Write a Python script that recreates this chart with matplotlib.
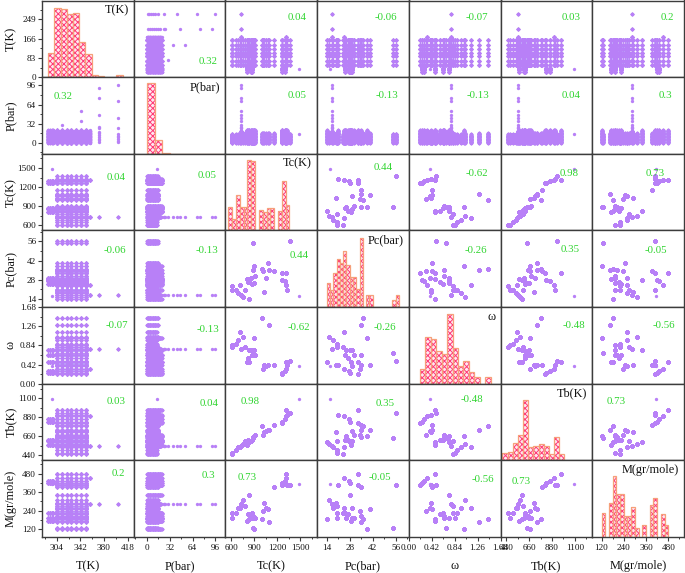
import numpy as np
import matplotlib
matplotlib.use("Agg")
import matplotlib.pyplot as plt
from matplotlib.ticker import FixedLocator, MultipleLocator, FormatStrFormatter

plt.rcParams['font.family'] = ['Liberation Serif', 'DejaVu Serif']
plt.rcParams['hatch.linewidth'] = 0.7

# ---------------- data ----------------
var_labels = ["T(K)", "P(bar)", "Tc(K)", "Pc(bar)", "ω", "Tb(K)", "M(gr/mole)"]

# compound properties (one entry per compound)
comp_Tc = [605, 613, 657, 692, 709, 725, 752, 779, 809, 822, 831, 831, 852, 874,
           883, 883, 891, 896, 904, 996, 1009, 1026, 1057, 1083, 1092, 1157,
           1257, 1265, 1296, 1309, 1318, 1331, 1370, 1490]
comp_Pc = [23.7, 20.3, 20.3, 18.1, 24.4, 17.1, 15.4, 20.3, 28.7, 26.8, 28.0, 14.2,
           29.2, 24.9, 54.6, 35.0, 25.6, 38.4, 30.9, 36.0, 34.5, 19.5, 29.2, 40.3,
           35.0, 34.8, 28.0, 33.1, 27.5, 24.4, 33.1, 20.8, 56.3, 15.9]
comp_omega = [0.81, 0.85, 0.88, 0.96, 1.14, 0.77, 1.03, 0.81, 0.48, 0.57, 0.74, 0.48,
              0.74, 0.63, 0.68, 0.64, 0.74, 1.01, 0.64, 1.45, 0.32, 0.40, 0.38, 0.42,
              1.28, 0.42, 0.24, 0.21, 0.27, 0.33, 0.48, 0.40, 0.49, 0.39]
comp_Tb = [456, 470, 499, 533, 540, 550, 571, 602, 564, 621, 594, 590, 610, 621,
           640, 650, 660, 670, 679, 775, 671, 709, 717, 736, 736, 786, 824, 813,
           859, 897, 962, 909, 930, 1093]
comp_M = [222, 195, 222, 255, 255, 284, 312, 270, 173, 216, 340, 184, 195, 227,
          130, 205, 195, 120, 195, 184, 237, 291, 259, 248, 167, 391, 419, 409,
          430, 451, 477, 409, 409, 413]
# measured temperature sets and pressure ranges for each compound
comp_Tset = ["A", "A", "A", "A", "A", "C", "A", "A", "AL", "A", "A", "A", "AL", "AL",
             "A", "A", "A", "A", "A", "A", "A", "A", "A", "A", "A", "A", "AL", "A",
             "AL", "C", "A", "A", "A", "S"]
comp_Pmax = [14, 14, 14, 14, 14, 20, 16, 16, 21, 21, 21, 21, 21, 21, 15, 21, 21, 21,
             21, 16, 16, 16, 16, 16, 16, 16, 21, 21, 21, 21, 21, 21, 15, 14]
comp_Pmin = [0, 0, 0, 0, 0, 0, 0, 0, 0, 0, 0, 0, 0, 0, 0, 0, 0, 0, 0, 0, 0, 0, 0,
             0, 0, 0, 0, 0, 0, 0, 0, 0, 0, 14]
T_sets = {
    "A": [304, 312, 320, 327, 335, 343, 351],
    "C": [304, 312, 320, 327, 335, 343, 351, 358],
    "L": [290, 293, 296, 298],
    "S": [296],
}
P_grid = [0.2, 1, 2, 3, 4, 5, 6, 7, 8, 9, 10, 11, 12, 13, 14, 15, 16, 17, 18,
          19, 20, 21, 22]
# high-pressure / high-temperature measurements of compound #6
extra_comp = 5
extra_T = [372, 372, 372, 372, 372, 372, 372, 372, 372, 372, 372, 372,
           402, 402, 402, 402, 402, 402, 402, 402, 402, 402, 343, 343, 313]
extra_P = [1, 4, 7, 10, 13, 16, 18, 24, 26, 46, 75, 91,
           1, 3.5, 6, 9, 12, 15, 24, 42, 70, 96, 37, 54, 29]

# histogram counts (diagonal)
hist_T_start, hist_T_width = 290, 10
hist_T_counts = [106, 297, 292, 272, 277, 150, 100, 8, 6, 0, 0, 8]
hist_P_start, hist_P_width = 0, 32 / 3
hist_P_counts = [1250, 240, 6, 4, 4, 3, 3, 4, 3, 4]
hist_Tc_start, hist_Tc_width = 560, 50
hist_Tc_counts = [84, 41, 126, 82, 82, 247, 245, 0, 72, 64, 78, 78, 0, 70, 175, 88]
hist_Pc_start, hist_Pc_width = 14, 2
hist_Pc_counts = [84, 60, 119, 168, 154, 196, 147, 105, 105, 63, 245, 0, 42, 42,
                  0, 0, 0, 0, 0, 0, 25, 42]
hist_w_start, hist_w_width = 0.2, 0.1
hist_w_counts = [51, 165, 156, 116, 104, 244, 127, 63, 80, 40, 22, 0, 22]
hist_Tb_start, hist_Tb_width = 400, 50
hist_Tb_counts = [27, 29, 61, 88, 212, 47, 50, 56, 50, 21, 84, 23]
hist_M_start, hist_M_width = 120, 20
hist_M_counts = [85, 0, 121, 214, 153, 153, 74, 74, 106, 30, 0, 42, 0, 112, 139,
                 0, 80, 42]

# Pearson correlation matrix
corr = [
    [1, 0.32, 0.04, -0.06, -0.07, 0.03, 0.2],
    [0.32, 1, 0.05, -0.13, -0.13, 0.04, 0.3],
    [0.04, 0.05, 1, 0.44, -0.62, 0.98, 0.73],
    [-0.06, -0.13, 0.44, 1, -0.26, 0.35, -0.05],
    [-0.07, -0.13, -0.62, -0.26, 1, -0.48, -0.56],
    [0.03, 0.04, 0.98, 0.35, -0.48, 1, 0.73],
    [0.2, 0.3, 0.73, -0.05, -0.56, 0.73, 1],
]

axis_ticks = [[304, 342, 380, 418], [0, 32, 64, 96], [600, 900, 1200, 1500],
              [14, 28, 42, 56], [0.00, 0.42, 0.84, 1.26, 1.68],
              [440, 660, 880, 1100], [120, 240, 360, 480]]
row0_count_ticks = [0, 83, 166, 249]

# ---------------- build table ----------------
rows = []
for i in range(len(comp_Tc)):
    temps = []
    for key in comp_Tset[i]:
        temps += T_sets[key]
    for t in temps:
        for p in P_grid:
            if comp_Pmin[i] <= p <= comp_Pmax[i]:
                rows.append((t, p, comp_Tc[i], comp_Pc[i], comp_omega[i], comp_Tb[i], comp_M[i]))
for t, p in zip(extra_T, extra_P):
    k = extra_comp
    rows.append((t, p, comp_Tc[k], comp_Pc[k], comp_omega[k], comp_Tb[k], comp_M[k]))
data = np.array(rows, dtype=float)

hists = [
    (hist_T_start, hist_T_width, hist_T_counts, 330),
    (hist_P_start, hist_P_width, hist_P_counts, 1350),
    (hist_Tc_start, hist_Tc_width, hist_Tc_counts, 270),
    (hist_Pc_start, hist_Pc_width, hist_Pc_counts, 270),
    (hist_w_start, hist_w_width, hist_w_counts, 270),
    (hist_Tb_start, hist_Tb_width, hist_Tb_counts, 270),
    (hist_M_start, hist_M_width, hist_M_counts, 270),
]

# ---------------- styling ----------------
lims = [(280, 428), (-18.5, 110), (522, 1722), (8.2, 64), (0, 1.68), (383, 1269), (70, 565)]
fmts = ['%d', '%d', '%d', '%d', '%.2f', '%d', '%d']
corr_pos = {
    (0, 1): (208, 62), (0, 2): (297, 18), (0, 3): (386, 18), (0, 4): (477, 18),
    (0, 5): (571, 18), (0, 6): (667, 18),
    (1, 0): (63, 97), (1, 2): (297, 96), (1, 3): (387, 96), (1, 4): (478, 96),
    (1, 5): (571, 96), (1, 6): (665, 96),
    (2, 0): (116, 178), (2, 1): (207, 176), (2, 3): (383, 168), (2, 4): (477, 173),
    (2, 5): (569, 173), (2, 6): (655, 173),
    (3, 0): (115, 250), (3, 1): (207, 250), (3, 2): (299, 256), (3, 4): (476, 250),
    (3, 5): (570, 249), (3, 6): (656, 250),
    (4, 0): (117, 326), (4, 1): (208, 330), (4, 2): (299, 327), (4, 3): (385, 327),
    (4, 5): (574, 326), (4, 6): (664, 326),
    (5, 0): (116, 402), (5, 1): (209, 403), (5, 2): (250, 402), (5, 3): (385, 404),
    (5, 4): (472, 400), (5, 6): (616, 401),
    (6, 0): (118, 473), (6, 1): (208, 476), (6, 2): (247, 477), (6, 3): (380, 478),
    (6, 4): (483, 479), (6, 5): (521, 481),
}

W, H = 685, 573
fig = plt.figure(figsize=(W / 100, H / 100), dpi=100)
L, R, TOP, BOT = 42.0, 684.0, 0.5, 537.0
cw = (R - L) / 7
rh = (BOT - TOP) / 7
pt_color = '#b880f7'
spine_color = '#3c3c3c'
green = '#2fd42f'
n = 7

for r in range(n):
    for c in range(n):
        x0 = L + c * cw
        y0 = TOP + r * rh
        ax = fig.add_axes([x0 / W, 1 - (y0 + rh) / H, cw / W, rh / H])
        for s in ax.spines.values():
            s.set_color(spine_color)
            s.set_linewidth(1.0)
        ax.tick_params(which='both', left=False, bottom=False, top=False, right=False,
                       labelleft=False, labelbottom=False)
        ax.set_xlim(lims[c])
        if r == c:
            start, width, counts, ytop = hists[r]
            cnt = np.asarray(counts, float)
            left = start + width * np.arange(len(cnt))
            m = cnt > 0
            ax.bar(left[m], cnt[m], width=width, align='edge', facecolor='#ffe8f0',
                   edgecolor='#ff3a76', hatch='xxxxxx', linewidth=0)
            ax.bar(left[m], cnt[m], width=width, align='edge', fill=False,
                   edgecolor='#f6a07a', linewidth=0.9)
            ax.set_ylim(0, ytop)
            ax.annotate(var_labels[r], xy=(1, 1), xycoords='axes fraction',
                        xytext=(-5, -4), textcoords='offset pixels',
                        ha='right', va='top', fontsize=8.8, color='#111111')
        else:
            ax.plot(data[:, c], data[:, r], 'o', ms=2.4, mew=0, color=pt_color)
            ax.set_ylim(lims[r])
            px, py = corr_pos[(r, c)]
            fig.text(px / W, 1 - py / H, f"{corr[r][c]:g}", ha='center', va='center',
                     fontsize=7.8, color=green, zorder=10)
        if c == 0:
            yt = row0_count_ticks if r == 0 else axis_ticks[r]
            ax.yaxis.set_major_locator(FixedLocator(yt))
            ax.yaxis.set_minor_locator(MultipleLocator((yt[1] - yt[0]) / 2))
            ax.yaxis.set_major_formatter(FormatStrFormatter('%d' if r == 0 else fmts[r]))
            ax.tick_params(axis='y', which='major', left=True, labelleft=True,
                           direction='out', length=3, width=0.8, pad=1.2,
                           labelsize=6.6, color=spine_color, labelcolor='#111111')
            ax.tick_params(axis='y', which='minor', left=True, direction='out',
                           length=1.6, width=0.7, color=spine_color)
        if r == n - 1:
            xt = axis_ticks[c]
            ax.xaxis.set_major_locator(FixedLocator(xt))
            ax.xaxis.set_minor_locator(MultipleLocator((xt[1] - xt[0]) / 2))
            ax.xaxis.set_major_formatter(FormatStrFormatter(fmts[c]))
            ax.tick_params(axis='x', which='major', bottom=True, labelbottom=True,
                           direction='out', length=3, width=0.8, pad=2.0,
                           labelsize=6.6, color=spine_color, labelcolor='#111111')
            ax.tick_params(axis='x', which='minor', bottom=True, direction='out',
                           length=1.6, width=0.7, color=spine_color)

# outer axis labels
for i, lab in enumerate(var_labels):
    cy = TOP + (i + 0.5) * rh
    fig.text(11 / W, 1 - cy / H, lab, rotation=90, ha='center', va='center',
             fontsize=8.8, color='#111111')
    cx = L + (i + 0.5) * cw
    fig.text(cx / W, 1 - 566 / H, lab, ha='center', va='center',
             fontsize=8.8, color='#111111')

fig.savefig('out.png', dpi=100)
